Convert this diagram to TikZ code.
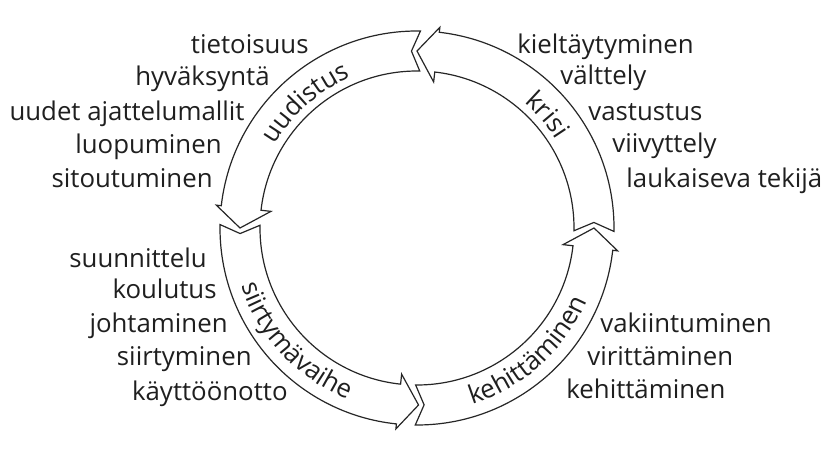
\documentclass[tikz,border=0pt]{standalone}
\usepackage{fontspec}
\setmainfont{Open Sans}
\usetikzlibrary{decorations.text}

\begin{document}
\begin{tikzpicture}[
    x=0.5pt, y=0.5pt,
    font=\fontsize{12.9}{15}\selectfont,
    seg/.style={draw=black!85, line width=0.6pt, fill=white, line join=miter},
    wordl/.style={anchor=base east, text=black!88, inner sep=0pt},
    wordr/.style={anchor=base west, text=black!88, inner sep=0pt},
    arctext/.style={decorate, decoration={text along path, text align=center, text color=black!88}}
]
\useasboundingbox (0,0) rectangle (829,451);

% --------------------------------------------------------------------------
% Ring of four arrows
% --------------------------------------------------------------------------
\coordinate (c) at (417,223);

\begin{scope}[shift={(c)}]
    % krisi
    \draw[seg] (-1:197) -- (1.8:177) -- (-1:157) arc[start angle=-1, end angle=83.5, radius=157]
        -- (83.5:147) -- (90:177) -- (83.5:202) -- (83.5:197) arc[start angle=83.5, end angle=-1, radius=197] -- cycle;
    % uudistus
    \draw[seg] (89:197) -- (91.8:177) -- (89:157) arc[start angle=89, end angle=173.5, radius=157]
        -- (173.5:147) -- (180:177) -- (173.5:202) -- (173.5:197) arc[start angle=173.5, end angle=89, radius=197] -- cycle;
    % siirtymavaihe
    \draw[seg] (179:197) -- (181.8:177) -- (179:157) arc[start angle=179, end angle=264, radius=157]
        -- (264:147) -- (270.5:177) -- (264:202) -- (264:197) arc[start angle=264, end angle=179, radius=197] -- cycle;
    % kehittaminen
    \draw[seg] (269.5:197) -- (272.3:177) -- (269.5:157) arc[start angle=269.5, end angle=353.5, radius=157]
        -- (353.5:147) -- (360:177) -- (353.5:202) -- (353.5:197) arc[start angle=353.5, end angle=269.5, radius=197] -- cycle;

    % labels along the arrows
    \path[arctext, decoration={text={|\fontsize{12.9}{15}\selectfont|uudistus}}] (171.6:165) arc[start angle=171.6, end angle=91.6, radius=165];
    \path[arctext, decoration={text={|\fontsize{12.9}{15}\selectfont|krisi}}] (81:165) arc[start angle=81, end angle=1, radius=165];
    \path[arctext, decoration={text={|\fontsize{12.9}{15}\selectfont|siirtymävaihe}}] (178:185) arc[start angle=178, end angle=268, radius=185];
    \path[arctext, decoration={text={|\fontsize{12.9}{15}\selectfont|kehittäminen}}] (272:185) arc[start angle=272, end angle=352, radius=185];
\end{scope}

% --------------------------------------------------------------------------
% Word lists
% --------------------------------------------------------------------------
\node[wordl] (uud1) at (309,398) {tietoisuus};
\node[wordl] (uud2) at (270,365) {hyväksyntä};
\node[wordl] (uud3) at (245,331) {uudet ajattelumallit};
\node[wordl] (uud4) at (222,298) {luopuminen};
\node[wordl] (uud5) at (213,264) {sitoutuminen};

\node[wordr] (kri1) at (517,398) {kieltäytyminen};
\node[wordr] (kri2) at (560,366) {välttely};
\node[wordr] (kri3) at (588,331) {vastustus};
\node[wordr] (kri4) at (612,299) {viivyttely};
\node[wordr] (kri5) at (626,264) {laukaiseva tekijä};

\node[wordl] (sii1) at (207,184) {suunnittelu};
\node[wordl] (sii2) at (217,153) {koulutus};
\node[wordl] (sii3) at (228,119) {johtaminen};
\node[wordl] (sii4) at (252,86) {siirtyminen};
\node[wordl] (sii5) at (288,51) {käyttöönotto};

\node[wordr] (keh1) at (600,119) {vakiintuminen};
\node[wordr] (keh2) at (587,86) {virittäminen};
\node[wordr] (keh3) at (566,53) {kehittäminen};

\end{tikzpicture}
\end{document}
